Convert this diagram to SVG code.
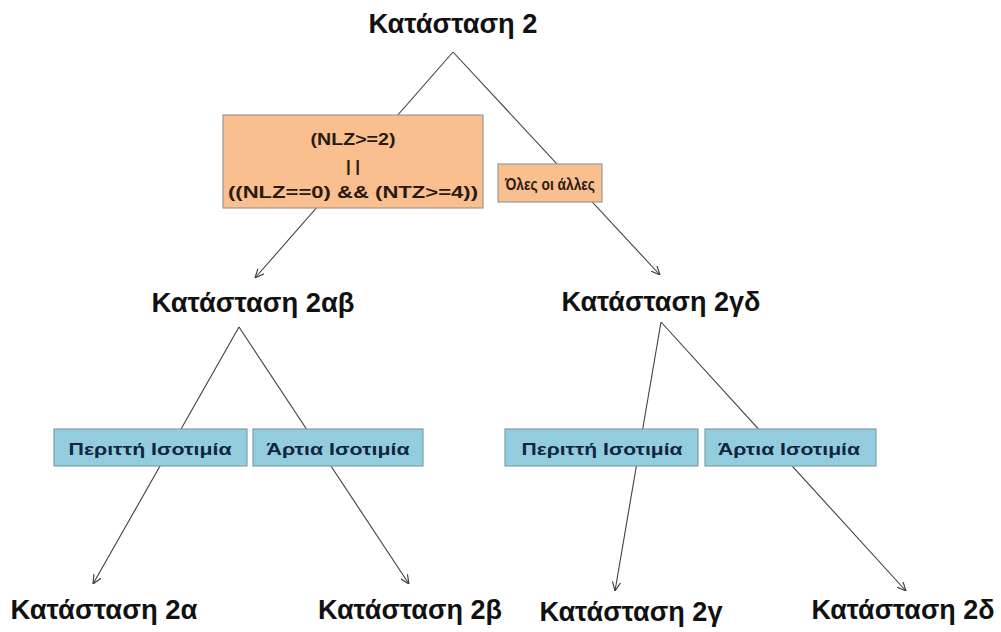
<svg xmlns="http://www.w3.org/2000/svg" width="1001" height="632" viewBox="0 0 1001 632">
<style>
.bg{fill:#ffffff}
.lbl{font-family:"Liberation Sans",Arial,sans-serif;font-weight:bold;font-size:27px;fill:#111;text-anchor:middle}
.ob{fill:#F9BF8F;stroke:#9a9a9a;stroke-width:1.2}
.bb{fill:#93CDDD;stroke:#7f9eaa;stroke-width:1.2}
.ot{font-family:"Liberation Sans",Arial,sans-serif;font-weight:bold;font-size:17px;fill:#2a1a10;text-anchor:middle}
.bt{font-family:"Liberation Sans",Arial,sans-serif;font-weight:bold;font-size:17px;fill:#10253F;text-anchor:middle}
.ln{stroke:#404040;stroke-width:1.1;fill:none}
</style>
<defs>
<marker id="arr" viewBox="0 0 10 10" refX="10" refY="5" markerWidth="9" markerHeight="9" orient="auto" markerUnits="userSpaceOnUse">
<path d="M0,0.5 L10,5 L0,9.5" fill="none" stroke="#404040" stroke-width="1.3"/>
</marker>
</defs>
<rect class="bg" x="0" y="0" width="1001" height="632"/>
<g id="connectors">
<line class="ln" x1="453" y1="52" x2="255" y2="278" marker-end="url(#arr)"/>
<line class="ln" x1="453" y1="52" x2="660" y2="275" marker-end="url(#arr)"/>
<line class="ln" x1="239" y1="327" x2="93" y2="584" marker-end="url(#arr)"/>
<line class="ln" x1="239" y1="327" x2="409" y2="584" marker-end="url(#arr)"/>
<line class="ln" x1="661" y1="322" x2="615" y2="591" marker-end="url(#arr)"/>
<line class="ln" x1="661" y1="322" x2="906" y2="591" marker-end="url(#arr)"/>
</g>
<g id="n-root"><text class="lbl" x="453" y="33" textLength="169" lengthAdjust="spacingAndGlyphs">Κατάσταση 2</text></g>
<g id="cond-left">
<rect class="ob" x="223" y="115" width="260" height="93"/>
<text class="ot" x="353" y="145" textLength="85" lengthAdjust="spacingAndGlyphs">(NLZ&gt;=2)</text>
<text class="ot" x="353" y="172">| |</text>
<text class="ot" x="353" y="198" textLength="250" lengthAdjust="spacingAndGlyphs">((NLZ==0) &amp;&amp; (NTZ&gt;=4))</text>
</g>
<g id="cond-right">
<rect class="ob" x="498" y="164" width="104" height="38"/>
<text class="ot" x="550" y="190" textLength="90" lengthAdjust="spacingAndGlyphs">Όλες οι άλλες</text>
</g>
<g id="n-2ab"><text class="lbl" x="253" y="312" textLength="203" lengthAdjust="spacingAndGlyphs">Κατάσταση 2αβ</text></g>
<g id="n-2gd"><text class="lbl" x="661" y="311" textLength="199" lengthAdjust="spacingAndGlyphs">Κατάσταση 2γδ</text></g>
<g id="par-ab-odd">
<rect class="bb" x="54" y="429" width="193" height="37"/>
<text class="bt" x="150" y="455" textLength="163" lengthAdjust="spacingAndGlyphs">Περιττή Ισοτιμία</text>
</g>
<g id="par-ab-even">
<rect class="bb" x="253" y="429" width="170" height="37"/>
<text class="bt" x="338" y="455" textLength="143" lengthAdjust="spacingAndGlyphs">Άρτια Ισοτιμία</text>
</g>
<g id="par-gd-odd">
<rect class="bb" x="505" y="429" width="193" height="37"/>
<text class="bt" x="602" y="455" textLength="161" lengthAdjust="spacingAndGlyphs">Περιττή Ισοτιμία</text>
</g>
<g id="par-gd-even">
<rect class="bb" x="705" y="429" width="171" height="37"/>
<text class="bt" x="789" y="455" textLength="142" lengthAdjust="spacingAndGlyphs">Άρτια Ισοτιμία</text>
</g>
<g id="n-2a"><text class="lbl" x="104" y="619" textLength="187" lengthAdjust="spacingAndGlyphs">Κατάσταση 2α</text></g>
<g id="n-2b"><text class="lbl" x="410" y="619" textLength="184" lengthAdjust="spacingAndGlyphs">Κατάσταση 2β</text></g>
<g id="n-2g"><text class="lbl" x="631" y="621" textLength="183" lengthAdjust="spacingAndGlyphs">Κατάσταση 2γ</text></g>
<g id="n-2d"><text class="lbl" x="903" y="619" textLength="183" lengthAdjust="spacingAndGlyphs">Κατάσταση 2δ</text></g>
</svg>
